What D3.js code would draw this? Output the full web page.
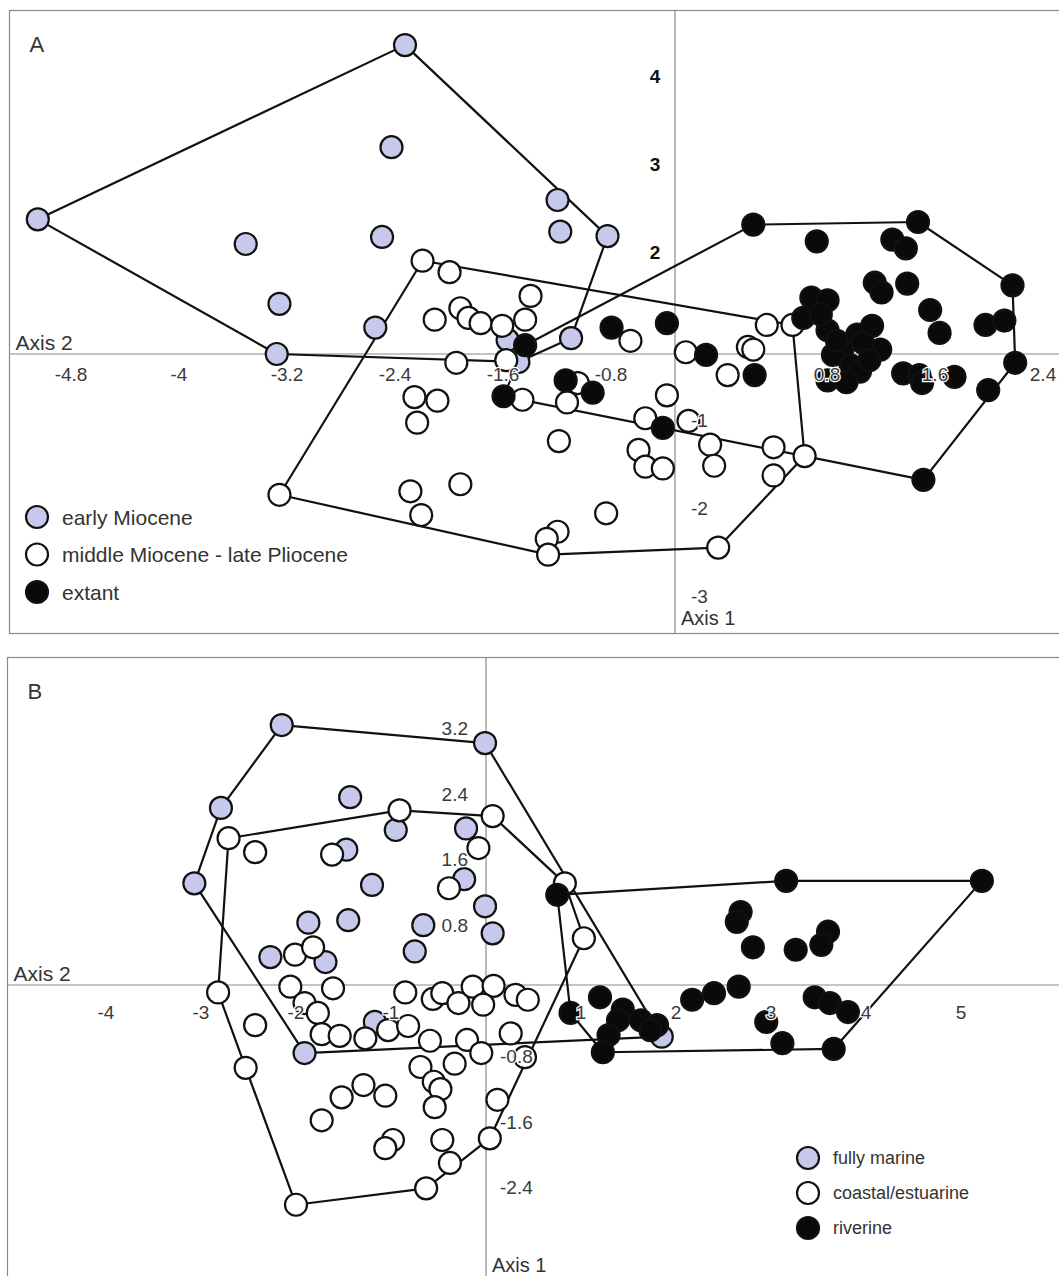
<!DOCTYPE html>
<html>
<head>
<meta charset="utf-8">
<script src="https://cdn.jsdelivr.net/npm/d3@7"></script>
<style>
  body { margin: 0; background: #fff; }
  svg { display: block; }
  text { font-family: "Liberation Sans", Arial, sans-serif; }
</style>
</head>
<body>
<div id="chart"></div>
<script>
// ---- Panel A : by age ----
const earlyMiocene = [
  [-2.00,3.51],[-4.72,1.53],[-2.10,2.35],[-0.87,1.75],[-0.85,1.39],[-0.50,1.34],[-3.18,1.25],
  [-2.17,1.33],[-2.93,0.57],[-2.22,0.30],[-2.95,0.00],[-0.77,0.18],[-1.24,0.16],[-1.16,-0.09]
];
const midMioceneLatePliocene = [
  [-1.87,1.06],[-1.67,0.93],[-1.07,0.66],[-1.78,0.39],[-1.59,0.52],[-1.53,0.41],[-1.44,0.35],
  [-1.28,0.32],[-1.11,0.39],[-1.25,-0.07],[-0.33,0.15],[0.08,0.02],[-1.62,-0.10],[-1.13,-0.52],
  [-0.72,-0.33],[-0.80,-0.55],[-1.93,-0.49],[-1.76,-0.53],[-1.91,-0.78],[-0.86,-0.99],[-0.06,-0.47],
  [-0.22,-0.73],[0.10,-0.76],[0.26,-1.03],[0.29,-1.27],[-0.27,-1.09],[-0.22,-1.28],[-0.09,-1.30],
  [0.73,-1.06],[0.73,-1.38],[0.96,-1.16],[0.68,0.33],[0.87,0.33],[0.54,0.08],[0.58,0.05],
  [0.39,-0.24],[-1.96,-1.56],[-1.59,-1.48],[-1.88,-1.83],[-0.51,-1.81],[-0.87,-2.02],[-0.95,-2.10],
  [-0.94,-2.28],[-2.93,-1.60],[0.32,-2.20]
];
const extant = [
  [-1.11,0.10],[-0.47,0.30],[-0.06,0.35],[-1.27,-0.48],[-0.81,-0.30],[-0.61,-0.44],[-0.09,-0.84],
  [0.23,-0.01],[0.59,-0.24],[0.58,1.47],[1.80,1.50],[1.05,1.28],[1.61,1.30],[1.71,1.20],
  [1.48,0.81],[1.53,0.70],[1.72,0.80],[2.50,0.78],[1.01,0.64],[1.13,0.61],[0.95,0.41],
  [1.89,0.50],[1.96,0.24],[2.30,0.33],[2.44,0.38],[1.13,0.27],[1.24,0.05],[1.35,0.22],
  [1.46,0.32],[1.52,0.05],[1.39,0.13],[1.17,-0.01],[1.30,-0.13],[1.37,-0.20],[1.13,-0.30],
  [1.27,-0.32],[1.69,-0.22],[1.81,-0.24],[1.83,-0.33],[2.07,-0.26],[2.52,-0.10],[2.32,-0.41],
  [1.84,-1.43],[1.44,-0.07],[1.20,0.15],[1.08,0.45]
];
const ticksAx = [-4.8, -4, -3.2, -2.4, -1.6, -0.8, 0.8, 1.6, 2.4];
const ticksAyUp = [4, 3, 2];
const ticksAyDown = [-1, -2, -3];
const legendA = ["early Miocene", "middle Miocene - late Pliocene", "extant"];

// ---- Panel B : by habitat ----
const fullyMarine = [
  [-2.15,3.17],[-2.79,2.16],[-3.07,1.24],[-1.43,2.29],[-1.47,1.65],[-1.87,0.76],[-1.45,0.79],
  [-2.27,0.34],[-1.69,0.28],[-0.01,2.95],[-0.95,1.89],[-0.21,1.91],[-0.23,1.29],[-1.20,1.22],
  [-0.01,0.96],[-0.66,0.73],[0.07,0.63],[-0.75,0.41],[-1.91,-0.83],[-1.17,-0.45],[1.85,-0.63]
];
const coastalEstuarine = [
  [-2.71,1.79],[-2.43,1.62],[-1.62,1.59],[-0.91,2.13],[-0.08,1.67],[-0.39,1.18],[0.07,2.06],
  [0.83,1.24],[1.03,0.57],[-2.01,0.37],[-1.82,0.46],[-2.06,-0.02],[-1.61,-0.04],[-2.82,-0.09],
  [-2.43,-0.49],[-2.53,-1.01],[-2.00,-2.68],[-1.91,-0.22],[-1.77,-0.34],[-1.73,-0.60],[-1.54,-0.62],
  [-1.27,-0.65],[-1.03,-0.55],[-0.82,-0.50],[-0.59,-0.68],[-0.56,-0.17],[-0.46,-0.10],[-0.29,-0.22],
  [-0.14,-0.02],[0.08,-0.01],[-0.03,-0.24],[-0.20,-0.67],[-0.05,-0.83],[-0.33,-0.96],[-0.69,-1.00],
  [-0.55,-1.18],[-0.48,-1.27],[-0.54,-1.49],[-1.29,-1.22],[-1.52,-1.37],[-1.06,-1.35],[-1.73,-1.65],
  [-0.98,-1.89],[-1.06,-1.99],[-0.46,-1.89],[-0.38,-2.17],[-0.63,-2.48],[0.12,-1.40],[0.04,-1.87],
  [0.31,-0.12],[0.44,-0.18],[0.26,-0.59],[0.41,-0.88],[-0.85,-0.09]
];
const riverine = [
  [0.75,1.10],[3.16,1.27],[5.22,1.27],[2.68,0.89],[2.64,0.77],[2.81,0.46],[3.26,0.43],
  [3.60,0.65],[3.53,0.49],[2.66,-0.02],[2.40,-0.10],[2.17,-0.18],[1.20,-0.15],[0.89,-0.34],
  [1.44,-0.30],[1.39,-0.43],[1.63,-0.43],[1.80,-0.49],[1.29,-0.61],[1.23,-0.82],[3.12,-0.71],
  [3.66,-0.78],[2.95,-0.45],[3.46,-0.15],[3.62,-0.22],[3.81,-0.33],[1.73,-0.55]
];
const ticksBx = [-4, -3, -2, -1, 1, 2, 3, 4, 5];
const ticksByUp = [3.2, 2.4, 1.6, 0.8];
const ticksByDown = [-0.8, -1.6, -2.4];
const legendB = ["fully marine", "coastal/estuarine", "riverine"];

const fills = ["#c6c9ec", "#ffffff", "#0a0a0a"];
const R = 11;

const svg = d3.select("#chart").append("svg")
    .attr("width", 1059)
    .attr("height", 1276);

function drawPanel(p) {
    const g = svg.append("g");
    const x = p.x, y = p.y;

    // frame
    g.append("rect")
        .attr("x", p.frame[0]).attr("y", p.frame[1])
        .attr("width", p.frame[2]).attr("height", p.frame[3])
        .attr("fill", "none").attr("stroke", "#8a8a8a").attr("stroke-width", 1.2);

    // axes through origin
    g.append("line")
        .attr("x1", p.frame[0]).attr("x2", 1059)
        .attr("y1", y(0)).attr("y2", y(0))
        .attr("stroke", "#8a8a8a").attr("stroke-width", 1.2);
    g.append("line")
        .attr("x1", x(0)).attr("x2", x(0))
        .attr("y1", p.frame[1]).attr("y2", p.frame[1] + p.frame[3])
        .attr("stroke", "#8a8a8a").attr("stroke-width", 1.2);

    // convex hulls
    p.groups.forEach(pts => {
        const hull = d3.polygonHull(pts.map(d => [x(d[0]), y(d[1])]));
        g.append("path")
            .attr("d", "M" + hull.join("L") + "Z")
            .attr("fill", "none")
            .attr("stroke", "#111")
            .attr("stroke-width", 2.2)
            .attr("stroke-linejoin", "round");
    });

    // points
    p.groups.forEach((pts, i) => {
        g.append("g")
            .selectAll("circle")
            .data(pts)
            .join("circle")
            .attr("cx", d => x(d[0]))
            .attr("cy", d => y(d[1]))
            .attr("r", R)
            .attr("fill", fills[i])
            .attr("stroke", "#111")
            .attr("stroke-width", 2.2);
    });

    // tick labels (drawn on top, with a light halo)
    const lab = g.append("g")
        .attr("font-size", p.tickSize)
        .attr("fill", "#3a3a3a")
        .attr("stroke", "#fff")
        .attr("stroke-width", 2.5)
        .attr("paint-order", "stroke")
        .attr("dominant-baseline", "central");
    lab.selectAll("text.tx")
        .data(p.xTicks)
        .join("text")
        .attr("class", "tx")
        .attr("text-anchor", "middle")
        .attr("x", d => x(d) + p.xTickDx)
        .attr("y", y(0) + p.xTickDy)
        .text(d => d);
    lab.selectAll("text.tyu")
        .data(p.yTicksUp)
        .join("text")
        .attr("class", "tyu")
        .attr("text-anchor", p.yUpAnchor)
        .attr("font-weight", p.yUpWeight)
        .attr("fill", p.yUpWeight === "bold" ? "#111" : "#3a3a3a")
        .attr("x", x(0) + p.yUpDx)
        .attr("y", d => y(d) + p.yUpDy)
        .text(d => d);
    lab.selectAll("text.tyd")
        .data(p.yTicksDown)
        .join("text")
        .attr("class", "tyd")
        .attr("text-anchor", "start")
        .attr("x", x(0) + p.yDownDx)
        .attr("y", d => y(d) + p.yDownDy)
        .text(d => d);

    // axis titles and panel letter
    const t = g.append("g").attr("fill", "#333").attr("dominant-baseline", "central");
    t.append("text").attr("x", p.frame[0] + 6).attr("y", y(0) - 12)
        .attr("font-size", 21).text("Axis 2");
    t.append("text").attr("x", x(0) + 6).attr("y", p.axis1Y)
        .attr("font-size", 20).text("Axis 1");
    t.append("text").attr("x", p.frame[0] + 20).attr("y", p.frame[1] + 34)
        .attr("font-size", 22).text(p.letter);

    // legend
    const lg = g.append("g")
        .selectAll("g")
        .data(p.legend)
        .join("g")
        .attr("transform", (d, i) => `translate(${p.legendX},${p.legendY + i * p.legendStep})`);
    lg.append("circle")
        .attr("r", R)
        .attr("fill", (d, i) => fills[i])
        .attr("stroke", "#111")
        .attr("stroke-width", 2.2);
    lg.append("text")
        .attr("x", 25)
        .attr("dominant-baseline", "central")
        .attr("font-size", p.legendSize)
        .attr("fill", "#333")
        .text(d => d);
}

drawPanel({
    letter: "A",
    frame: [9.5, 10.5, 1100, 623],
    x: d3.scaleLinear().domain([-5, 3]).range([0, 1080]),
    y: d3.scaleLinear().domain([-4, 4]).range([706, 2]),
    groups: [earlyMiocene, midMioceneLatePliocene, extant],
    tickSize: 19,
    xTicks: ticksAx, xTickDx: 44, xTickDy: 20,
    yTicksUp: ticksAyUp, yUpAnchor: "middle", yUpWeight: "bold", yUpDx: -20, yUpDy: 74,
    yTicksDown: ticksAyDown, yDownDx: 16, yDownDy: -22,
    axis1Y: 618,
    legend: legendA, legendX: 37, legendY: 517, legendStep: 37.5, legendSize: 21
});

drawPanel({
    letter: "B",
    frame: [7.5, 657.5, 1100, 700],
    x: d3.scaleLinear().domain([-5, 6]).range([11, 1056]),
    y: d3.scaleLinear().domain([-4, 4]).range([1313, 657]),
    groups: [fullyMarine, coastalEstuarine, riverine],
    tickSize: 19,
    xTicks: ticksBx, xTickDx: 0, xTickDy: 27,
    yTicksUp: ticksByUp, yUpAnchor: "end", yUpWeight: "normal", yUpDx: -18, yUpDy: 6,
    yTicksDown: ticksByDown, yDownDx: 14, yDownDy: 6,
    axis1Y: 1265,
    legend: legendB, legendX: 808, legendY: 1158, legendStep: 35, legendSize: 18
});
</script>
</body>
</html>
